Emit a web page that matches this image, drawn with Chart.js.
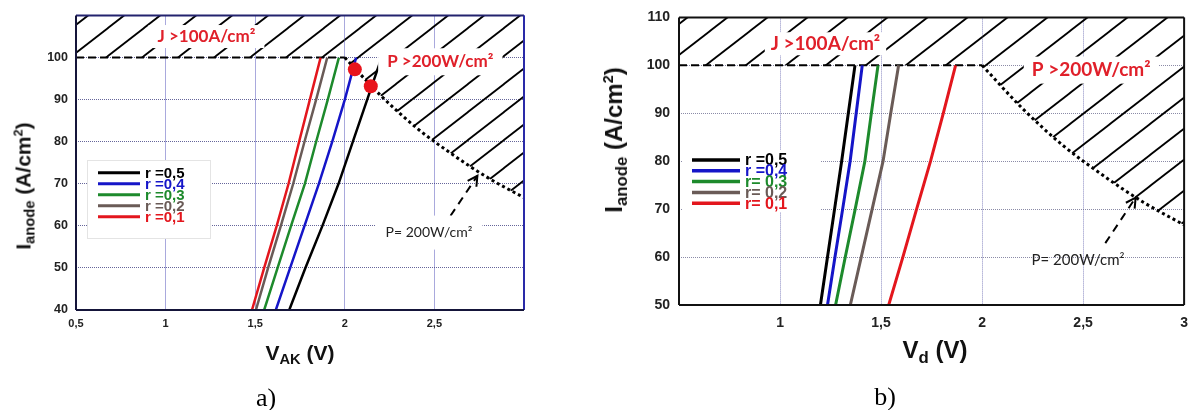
<!DOCTYPE html>
<html>
<head>
<meta charset="utf-8">
<script src="https://cdn.jsdelivr.net/npm/chart.js@4.4.0/dist/chart.umd.min.js"></script>
<style>
  body { margin:0; background:#fff; width:1198px; height:410px; position:relative; overflow:hidden; font-family: Arial, 'Liberation Sans', sans-serif; }
  canvas { position:absolute; top:0; }
  #chartA { left:0; }
  #chartB { left:590px; }
  .title { position:absolute; font-weight:bold; white-space:nowrap; line-height:1; color:#111; }
  .title sub { font-size:0.7em; vertical-align:-0.3em; line-height:0; }
  .title sup { font-size:0.6em; vertical-align:0.65em; line-height:0; }
  .rot { transform: translate(-50%,-50%) rotate(-90deg); }
  .hor { transform: translate(-50%,-50%); }
  .panel { position:absolute; font-family:'Liberation Serif','Times New Roman',serif; font-size:26px; line-height:1; transform:translate(-50%,-50%); }
</style>
</head>
<body>
<canvas id="chartA" width="560" height="410"></canvas>
<canvas id="chartB" width="608" height="410"></canvas>

<div class="title rot" style="left:23px; top:186px; font-size:21px;">I<sub>anode</sub> (A/cm<sup>2</sup>)</div>
<div class="title hor" style="left:300px; top:352px; font-size:21px;">V<sub>AK</sub> (V)</div>
<div class="panel" style="left:266px; top:398px;">a)</div>

<div class="title rot" style="left:614px; top:140px; font-size:24px;">I<sub>anode</sub> (A/cm<sup>2</sup>)</div>
<div class="title hor" style="left:935px; top:350px; font-size:24px;">V<sub>d</sub> (V)</div>
<div class="panel" style="left:885px; top:397px;">b)</div>

<script>
// tick labels (comma decimals, as in the figure)
const xTickValues = [0.5, 1, 1.5, 2, 2.5, 3];
const xTickLabelsA = ['0,5', '1', '1,5', '2', '2,5', ''];
const xTickLabelsB = ['', '1', '1,5', '2', '2,5', '3'];
const yTickValuesA = [40, 50, 60, 70, 80, 90, 100, 110];
const yTickLabelsA = ['40', '50', '60', '70', '80', '90', '100', ''];
const yTickValuesB = [50, 60, 70, 80, 90, 100, 110];
const yTickLabelsB = ['50', '60', '70', '80', '90', '100', '110'];

const rLabelsA = ['r =0,5', 'r =0,4', 'r =0,3', 'r =0,2', 'r =0,1'];
const rLabelsB = ['r =0,5', 'r =0,4', 'r= 0,3', 'r= 0,2', 'r= 0,1'];
const rColors = ['#000000', '#1515c8', '#1d8a2c', '#6a5b57', '#e3161d'];

// a) anode current levels and V_AK read for each r
const iLevelsA = [40, 50, 60, 70, 80, 90, 100];
const vakR05 = [1.69, 1.78, 1.875, 1.965, 2.045, 2.125, 2.205];
const vakR04 = [1.615, 1.695, 1.775, 1.855, 1.93, 2.0, 2.063];
const vakR03 = [1.55, 1.625, 1.70, 1.777, 1.84, 1.905, 1.967];
const vakR02 = [1.504, 1.572, 1.643, 1.712, 1.775, 1.84, 1.902];
const vakR01 = [1.482, 1.55, 1.62, 1.686, 1.745, 1.805, 1.865];

// b) anode current levels and V_d for each r
const iLevelsB = [50, 60, 70, 80, 90, 100];
const vdR05 = [1.20, 1.235, 1.27, 1.305, 1.338, 1.371];
const vdR04 = [1.235, 1.272, 1.31, 1.347, 1.377, 1.407];
const vdR03 = [1.275, 1.323, 1.372, 1.42, 1.452, 1.485];
const vdR02 = [1.348, 1.402, 1.456, 1.51, 1.548, 1.587];
const vdR01 = [1.538, 1.608, 1.676, 1.745, 1.808, 1.869];

// limits: J = 100 A/cm2 and P = 200 W/cm2
const jLimitX = [0.5, 2];
const jLimitY = [100, 100];
const pLimitX = [2, 2.2, 2.4, 2.6, 2.8, 3];
const pLimitY = [100, 91, 83.3, 77, 71.4, 66.7];

// red operating points (a) and arrows to the P curve
const dotsX = [2.056, 2.145];
const dotsY = [97.2, 93.2];
const arrowAX = [2.59, 2.74];
const arrowAY = [62.4, 71.9];
const arrowBX = [2.61, 2.76];
const arrowBY = [62.9, 72.4];

const pts = (xs, ys) => xs.map((x, i) => ({ x: x, y: ys[i] }));

function hatch(w, h) {
    const c = document.createElement('canvas');
    c.width = w; c.height = h;
    const g = c.getContext('2d');
    g.strokeStyle = '#000';
    g.lineWidth = 1.8;
    for (let k = 0; k <= 2; k++) {
        g.beginPath();
        g.moveTo(-w + (k - 1) * w, 2 * h);
        g.lineTo(2 * w + (k - 1) * w, -h);
        g.stroke();
    }
    return g.createPattern(c, 'repeat');
}

function limitDatasets(pattern) {
    return [
        { data: pts(jLimitX, jLimitY), borderColor: '#000', borderWidth: 2, borderDash: [8, 4],
          fill: 'end', backgroundColor: pattern, pointRadius: 0, order: 10 },
        { data: pts(pLimitX, pLimitY), borderColor: '#000', borderWidth: 3, borderDash: [3, 3],
          fill: 'end', backgroundColor: pattern, pointRadius: 0, cubicInterpolationMode: 'monotone', order: 10 }
    ];
}

function curve(xs, ys, color, w) {
    return { data: pts(xs, ys), borderColor: color, borderWidth: w, pointRadius: 0, fill: false, order: 2 };
}

const decoPlugin = {
    id: 'deco',
    afterDatasetsDraw(chart, args, o) {
        const ctx = chart.ctx;
        const xs = chart.scales.x, ys = chart.scales.y;
        const a = chart.chartArea;
        ctx.save();

        // arrow head on the dashed arrow
        const ax = o.arrow.x, ay = o.arrow.y;
        const x0 = xs.getPixelForValue(ax[0]), y0 = ys.getPixelForValue(ay[0]);
        const x1 = xs.getPixelForValue(ax[1]), y1 = ys.getPixelForValue(ay[1]);
        const ang = Math.atan2(y1 - y0, x1 - x0);
        ctx.strokeStyle = '#000';
        ctx.lineWidth = 2;
        ctx.beginPath();
        ctx.moveTo(x1 - 11 * Math.cos(ang - 0.5), y1 - 11 * Math.sin(ang - 0.5));
        ctx.lineTo(x1, y1);
        ctx.lineTo(x1 - 11 * Math.cos(ang + 0.5), y1 - 11 * Math.sin(ang + 0.5));
        ctx.stroke();

        // text labels
        o.labels.forEach(l => {
            ctx.font = l.font;
            const px = xs.getPixelForValue(l.x), py = ys.getPixelForValue(l.y);
            const w = ctx.measureText(l.text).width;
            const h = parseFloat(l.font.match(/(\d+(\.\d+)?)px/)[1]);
            if (l.bg) {
                ctx.fillStyle = '#fff';
                ctx.fillRect(px - w / 2 - l.pad[0], py - h / 2 - l.pad[1], w + 2 * l.pad[0], h + 2 * l.pad[1]);
            }
            ctx.fillStyle = l.color;
            ctx.textAlign = 'center';
            ctx.textBaseline = 'middle';
            ctx.fillText(l.text, px, py);
        });

        // legend
        const lg = o.legend;
        ctx.fillStyle = '#fff';
        ctx.fillRect(lg.box[0], lg.box[1], lg.box[2], lg.box[3]);
        if (lg.border) {
            ctx.strokeStyle = lg.border;
            ctx.lineWidth = 1;
            ctx.strokeRect(lg.box[0] + 0.5, lg.box[1] + 0.5, lg.box[2], lg.box[3]);
        }
        ctx.font = lg.font;
        ctx.textAlign = 'left';
        ctx.textBaseline = 'middle';
        lg.labels.forEach((t, i) => {
            const y = lg.y0 + i * lg.dy;
            ctx.strokeStyle = rColors[i];
            ctx.lineWidth = lg.lw;
            ctx.beginPath();
            ctx.moveTo(lg.line[0], y);
            ctx.lineTo(lg.line[1], y);
            ctx.stroke();
            ctx.fillStyle = rColors[i];
            ctx.fillText(t, lg.textX, y + 1);
        });

        // frame
        const b = o.frame;
        ctx.lineWidth = 2;
        [['top', a.left, a.top, a.right, a.top], ['right', a.right, a.top, a.right, a.bottom],
         ['bottom', a.left, a.bottom, a.right, a.bottom], ['left', a.left, a.top, a.left, a.bottom]]
            .forEach(s => {
                ctx.strokeStyle = b[s[0]];
                ctx.beginPath();
                ctx.moveTo(s[1], s[2]);
                ctx.lineTo(s[3], s[4]);
                ctx.stroke();
            });
        ctx.restore();
    }
};

function axes(opt) {
    return {
        x: {
            type: 'linear', min: 0.5, max: 3,
            afterFit: s => { s.height = opt.xh; },
            afterBuildTicks: s => { s.ticks = xTickValues.map(v => ({ value: v })); },
            ticks: { autoSkip: false, maxRotation: 0, padding: opt.xpad, color: '#222',
                     font: { family: 'Arial', weight: 'bold', size: opt.xfs },
                     callback: (v, i) => opt.xl[i] },
            grid: { color: opt.gridX, lineWidth: 1, drawTicks: false },
            border: { display: false, dash: [1, 1] }
        },
        y: {
            type: 'linear', min: opt.yv[0], max: 110,
            afterFit: s => { s.width = opt.yw; },
            afterBuildTicks: s => { s.ticks = opt.yv.map(v => ({ value: v })); },
            ticks: { autoSkip: false, padding: opt.ypad, color: '#222',
                     font: { family: 'Arial', weight: 'bold', size: opt.yfs },
                     callback: (v, i) => opt.yl[i] },
            grid: { color: opt.gridY, lineWidth: 1, drawTicks: false },
            border: { display: false, dash: [1, 1] }
        }
    };
}

// ---- chart a) ----
new Chart(document.getElementById('chartA'), {
    type: 'line',
    data: {
        datasets: [
            { type: 'scatter', data: pts(dotsX, dotsY), backgroundColor: '#e8141c', borderWidth: 0,
              pointRadius: 7, order: 0 },
            curve(vakR05, iLevelsA, rColors[0], 2.5),
            curve(vakR04, iLevelsA, rColors[1], 2.5),
            curve(vakR03, iLevelsA, rColors[2], 2.5),
            curve(vakR02, iLevelsA, rColors[3], 2.5),
            curve(vakR01, iLevelsA, rColors[4], 2.5),
            { data: pts(arrowAX, arrowAY), borderColor: '#000', borderWidth: 2, borderDash: [8, 6],
              pointRadius: 0, fill: false, order: 3 },
            ...limitDatasets(hatch(36, 28))
        ]
    },
    options: {
        responsive: false,
        animation: false,
        events: [],
        layout: { autoPadding: false, padding: { top: 13, right: 36, left: 0, bottom: 0 } },
        plugins: {
            legend: { display: false },
            tooltip: { enabled: false },
            deco: {
                arrow: { x: arrowAX, y: arrowAY },
                labels: [
                    { text: 'J >100A/cm²', x: 1.228, y: 105, color: '#e0202a', font: 'bold 17px Lato', bg: true, pad: [9, 3] },
                    { text: 'P >200W/cm²', x: 2.533, y: 99, color: '#e0202a', font: 'bold 17px Lato', bg: true, pad: [9, 5] },
                    { text: 'P= 200W/cm²', x: 2.47, y: 58.4, color: '#222', font: '14px Lato', bg: true, pad: [10, 10] }
                ],
                legend: { box: [87, 160, 123, 78], border: '#e4e4e4', line: [98, 140], textX: 145,
                          y0: 172.7, dy: 11, font: 'bold 15px Arial', lw: 3, labels: rLabelsA },
                frame: { top: '#23236e', right: '#2a2aa8', bottom: '#15153a', left: '#15153a' }
            }
        },
        scales: axes({ xh: 100, xpad: 7, xfs: 11, xl: xTickLabelsA, yw: 76, ypad: 8, yfs: 12.5,
                       yv: yTickValuesA, yl: yTickLabelsA,
                       gridX: 'rgba(40,40,170,0.8)', gridY: 'rgba(50,50,120,0.75)' })
    },
    plugins: [decoPlugin]
});

// ---- chart b) ----
new Chart(document.getElementById('chartB'), {
    type: 'line',
    data: {
        datasets: [
            curve(vdR05, iLevelsB, rColors[0], 3),
            curve(vdR04, iLevelsB, rColors[1], 3),
            curve(vdR03, iLevelsB, rColors[2], 3),
            curve(vdR02, iLevelsB, rColors[3], 3),
            curve(vdR01, iLevelsB, rColors[4], 3),
            { data: pts(arrowBX, arrowBY), borderColor: '#000', borderWidth: 2, borderDash: [8, 6],
              pointRadius: 0, fill: false, order: 3 },
            ...limitDatasets(hatch(40, 31))
        ]
    },
    options: {
        responsive: false,
        animation: false,
        events: [],
        layout: { autoPadding: false, padding: { top: 11, right: 8, left: 0, bottom: 0 } },
        plugins: {
            legend: { display: false },
            tooltip: { enabled: false },
            deco: {
                arrow: { x: arrowBX, y: arrowBY },
                labels: [
                    { text: 'J >100A/cm²', x: 1.225, y: 104.5, color: '#e0202a', font: 'bold 19px Lato', bg: true, pad: [6, 2] },
                    { text: 'P >200W/cm²', x: 2.54, y: 99, color: '#e0202a', font: 'bold 19px Lato', bg: true, pad: [8, 4] },
                    { text: 'P= 200W/cm²', x: 2.475, y: 59.4, color: '#222', font: '15px Lato', bg: false, pad: [0, 0] }
                ],
                legend: { box: [92, 150, 138, 62], border: null, line: [102, 150], textX: 155,
                          y0: 160, dy: 10.8, font: 'bold 16px Arial', lw: 3.5, labels: rLabelsB },
                frame: { top: '#111', right: '#111', bottom: '#111', left: '#111' }
            }
        },
        scales: axes({ xh: 105, xpad: 10, xfs: 14, xl: xTickLabelsB, yw: 89, ypad: 9, yfs: 14,
                       yv: yTickValuesB, yl: yTickLabelsB,
                       gridX: 'rgba(90,90,170,0.7)', gridY: 'rgba(90,90,130,0.7)' })
    },
    plugins: [decoPlugin]
});
</script>
</body>
</html>
